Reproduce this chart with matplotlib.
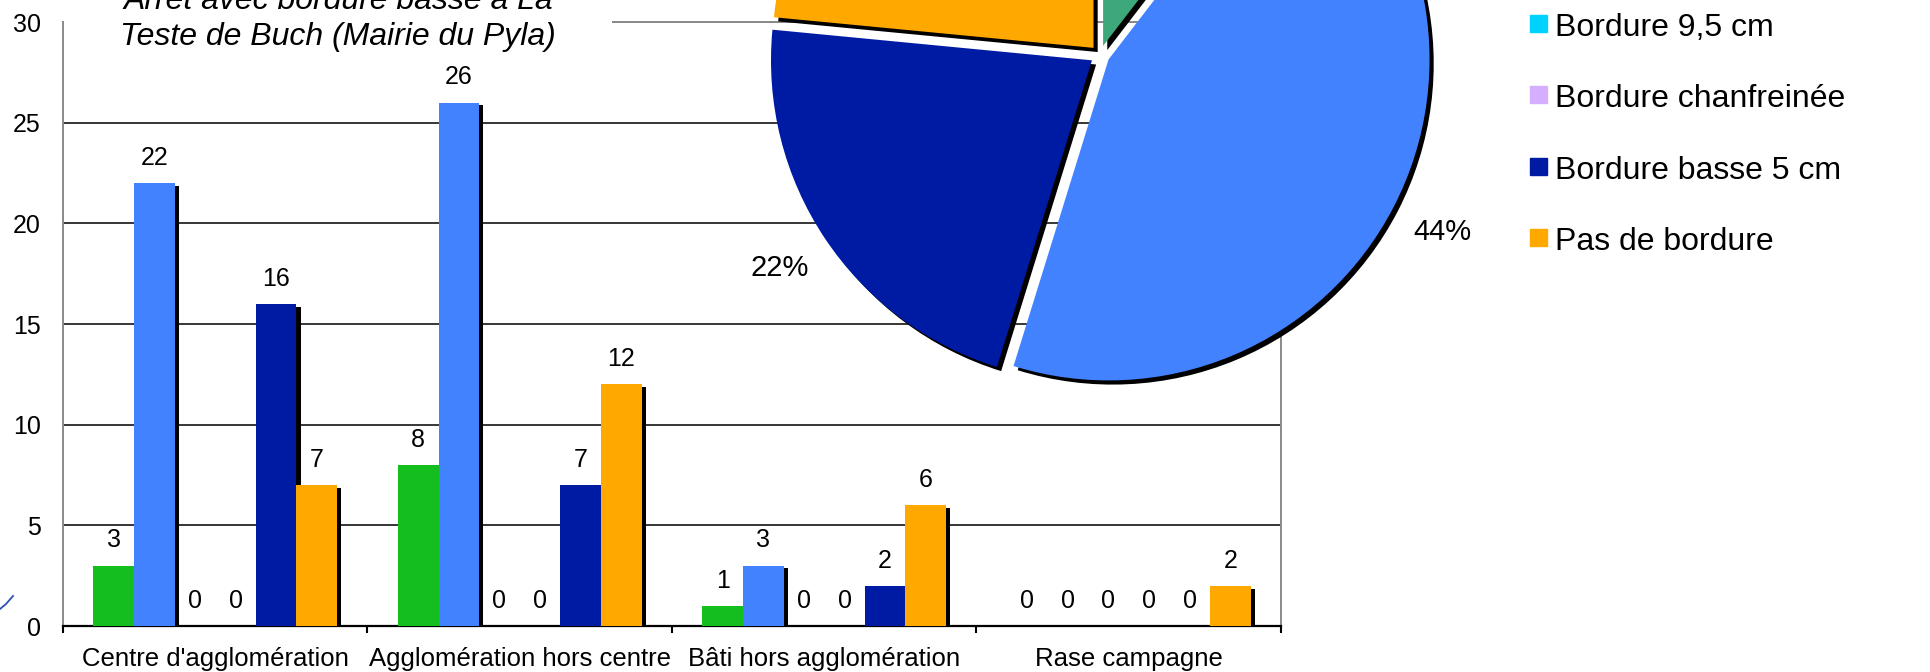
import matplotlib
matplotlib.use('Agg')
import matplotlib.pyplot as plt
import matplotlib.patheffects as pe
from matplotlib.patches import Rectangle
from matplotlib.lines import Line2D
import numpy as np

plt.rcParams['font.family'] = ['Liberation Sans', 'DejaVu Sans']

# Data
categories = ["Centre d'agglomération", "Agglomération hors centre",
              "Bâti hors agglomération", "Rase campagne"]
serie_verte = [3, 8, 1, 0]
serie_bleu_clair = [22, 26, 3, 0]
bordure_9_5 = [0, 0, 0, 0]
bordure_chanfreinee = [0, 0, 0, 0]
bordure_basse_5 = [16, 7, 2, 0]
pas_de_bordure = [7, 12, 6, 2]

series_vals = [serie_verte, serie_bleu_clair, bordure_9_5,
               bordure_chanfreinee, bordure_basse_5, pas_de_bordure]
bar_colors = ['#14BE1E', '#4282FF', '#00D2FF', '#D6AEFF', '#001BA3', '#FFA800']
pie_colors = ['#3DA87A', '#4282FF', '#00D2FF', '#D6AEFF', '#001BA3', '#FFA800']
legend_labels = ['Bordure 9,5 cm', 'Bordure chanfreinée',
                 'Bordure basse 5 cm', 'Pas de bordure']
legend_colors = bar_colors[2:]
title = "Arrêt avec bordure basse à La\nTeste de Buch (Mairie du Pyla)"

W, H = 1931, 672
fig = plt.figure(figsize=(W / 100, H / 100), dpi=100)

# --- bar chart ---
ax = fig.add_axes([63 / W, 46 / H, 1218 / W, 604 / H])
x = np.arange(len(categories))
n = len(series_vals)
bw = 0.8 / n
bar_shadow = [pe.SimplePatchShadow(offset=(3, -2), shadow_rgbFace='black', alpha=1.0),
              pe.Normal()]
for i, (vals, col) in enumerate(zip(series_vals, bar_colors)):
    pos = x - 0.4 + bw * (i + 0.5)
    bars = ax.bar(pos, vals, bw, color=col, zorder=3)
    for b in bars:
        b.set_path_effects(bar_shadow)
    for p, v in zip(pos, vals):
        ax.annotate(str(v), (p, v), xytext=(0, 9.5), textcoords='offset points',
                    ha='center', va='bottom', fontsize=18, zorder=5)

ax.set_xlim(-0.5, len(categories) - 0.5)
ax.set_ylim(0, 30)
ax.set_yticks(range(0, 31, 5))
ax.set_xticks(x)
ax.set_xticklabels(categories)
ax.set_xticks(np.arange(-0.5, len(categories)), minor=True)
ax.tick_params(axis='x', which='major', length=0, pad=15, labelsize=18.5)
ax.tick_params(axis='x', which='minor', length=5, width=1.5, color='black')
ax.tick_params(axis='y', length=0, pad=16, labelsize=18)
ax.set_axisbelow(True)
ax.yaxis.grid(True, color='black', linewidth=1.1)
ax.spines['bottom'].set_color('black')
ax.spines['bottom'].set_linewidth(1.6)
for s in ['left', 'top', 'right']:
    ax.spines[s].set_color('#8a8a8a')
    ax.spines[s].set_linewidth(1.4)

# title box (white background hides the top frame)
ax.text(0.226, 0.962, title, transform=ax.transAxes, ha='center', va='baseline',
        fontsize=23, style='italic', linespacing=1.25, zorder=2.7,
        bbox=dict(facecolor='white', edgecolor='none', boxstyle='square,pad=1.75'))

# --- pie chart overlay ---
totals = [sum(v) for v in series_vals]
pie_vals = [t for t in totals if t > 0]
pie_cols = [c for t, c in zip(totals, pie_colors) if t > 0]
R = 321
side = 2.2 * R
cx, cy = 1100, H - 55
ax2 = fig.add_axes([(cx - side / 2) / W, (cy - side / 2) / H, side / W, side / H])
wedges, _, autotexts = ax2.pie(pie_vals, colors=pie_cols, startangle=90, counterclock=False,
                               explode=[0.03] * len(pie_vals),
                               autopct=lambda p: f'{p:.0f}%', pctdistance=1.17,
                               textprops={'fontsize': 21})
pie_shadow = [pe.SimplePatchShadow(offset=(3, -3), shadow_rgbFace='black', alpha=1.0),
              pe.Normal()]
for w in wedges:
    w.set_path_effects(pie_shadow)
ax2.set_xlim(-1.1, 1.1)
ax2.set_ylim(-1.1, 1.1)
ax2.set_frame_on(False)

# --- legend (upper entries fall outside the picture) ---
for i, (lab, col) in enumerate(zip(legend_labels, legend_colors)):
    yc = 23.5 + i * 71.3
    fig.patches.append(Rectangle((1530 / W, (H - yc - 8.5) / H), 17 / W, 17 / H,
                                 transform=fig.transFigure, color=col))
    fig.text(1555 / W, (H - yc - 12.5) / H, lab, fontsize=23, va='baseline')

# stray blue stroke at the left edge
fig.add_artist(Line2D([0, 6 / W, 13 / W], [63 / H, 68 / H, 76 / H],
                      transform=fig.transFigure, color='#2E50B0', linewidth=1.3))

fig.savefig('out.png', dpi=100)
